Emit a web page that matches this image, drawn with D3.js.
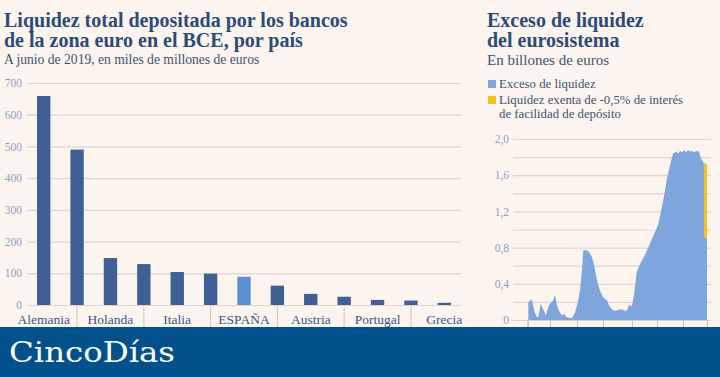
<!DOCTYPE html>
<html>
<head>
<meta charset="utf-8">
<script src="https://cdn.jsdelivr.net/npm/d3@7"></script>
<style>
  body { margin: 0; background: #fcf5ef; }
  svg { display: block; }
  .titulo { font-family: "Liberation Serif", serif; font-weight: bold; fill: #2d4b78; }
  .sub { font-family: "Liberation Serif", serif; fill: #3d5275; }
  .tick text { font-family: "Liberation Serif", serif; }
</style>
</head>
<body>
<script>
// Datos: depósitos por país (miles de millones de euros)
var paises = ["Alemania", "Francia", "Holanda", "Bélgica", "Italia", "Luxemburgo", "ESPAÑA",
              "Finlandia", "Austria", "Irlanda", "Portugal", "Eslovaquia", "Grecia"];
var depositos = [659, 490, 148, 129, 104, 99, 89, 61, 35, 26, 16, 14, 7];
var ticksDepositos = [0, 100, 200, 300, 400, 500, 600, 700];

// Datos: exceso de liquidez del eurosistema (billones de euros)
var fechasExceso = ["2008-10-08", "2008-11-14", "2008-12-20", "2009-01-26", "2009-03-03", "2009-04-09",
  "2009-05-15", "2009-07-05", "2009-08-18", "2009-09-16", "2009-10-30", "2009-12-06", "2010-01-12",
  "2010-03-05", "2010-04-09", "2010-05-16", "2010-06-21", "2010-07-27", "2010-09-02", "2010-10-30",
  "2010-12-06", "2011-01-26", "2011-04-09", "2011-06-06", "2011-07-27", "2011-09-16", "2011-11-14",
  "2011-12-28", "2012-01-26", "2012-04-12", "2012-06-06", "2012-07-30", "2012-09-16", "2012-10-30",
  "2012-12-20", "2013-02-13", "2013-04-09", "2013-06-24", "2013-08-18", "2013-10-12", "2013-12-24",
  "2014-03-03", "2014-05-19", "2014-07-30", "2014-09-16", "2014-10-30", "2014-12-24", "2015-02-13",
  "2015-04-12", "2015-06-24", "2015-10-12", "2016-03-14", "2016-07-23", "2016-11-10", "2017-02-06",
  "2017-04-12", "2017-06-17", "2017-08-22", "2017-10-05", "2017-11-18", "2018-01-01", "2018-02-13",
  "2018-03-28", "2018-05-12", "2018-06-25", "2018-08-08", "2018-09-20", "2018-11-03", "2019-01-08",
  "2019-02-21", "2019-04-05", "2019-04-25", "2019-07-01"];
var valoresExceso = [0.20, 0.21, 0.23, 0.15, 0.08, 0.04,
  0.03, 0.18, 0.13, 0.10, 0.05, 0.12, 0.17,
  0.20, 0.22, 0.28, 0.18, 0.12, 0.08, 0.05,
  0.07, 0.03, 0.02, 0.03, 0.08, 0.17, 0.32,
  0.55, 0.77, 0.77, 0.75, 0.70, 0.62, 0.50,
  0.38, 0.30, 0.25, 0.22, 0.16, 0.12, 0.10,
  0.11, 0.12, 0.10, 0.11, 0.17, 0.15, 0.28,
  0.53, 0.62, 0.72, 0.90, 1.05, 1.31, 1.57,
  1.71, 1.84, 1.86, 1.84, 1.87, 1.85, 1.88,
  1.85, 1.88, 1.86, 1.87, 1.85, 1.87, 1.86,
  1.78, 1.75, 1.73, 1.72];
// Liquidez exenta del tipo de la facilidad de depósito (último tramo)
var fechasExenta = ["2019-04-25", "2019-07-01"];
var valoresExenta = [0.82, 0.82];
var ticksFechas = ["2008-09-15", "2010-01-26", "2011-09-10", "2013-04-01", "2015-01-01",
  "2016-07-01", "2018-01-20", "2019-07-01"];
var ticksExceso = [0, 0.2, 0.4, 0.6, 0.8, 1.0, 1.2, 1.4, 1.6, 1.8, 2.0];
var etiquetasExceso = [0, 0.4, 0.8, 1.2, 1.6, 2.0];

var W = 720, H = 377;
var svg = d3.select("body").append("svg")
    .attr("width", W)
    .attr("height", H);

svg.append("rect").attr("width", W).attr("height", H).attr("fill", "#fcf5ef");

// ---------- Gráfico izquierdo ----------
var izq = {left: 27, right: 461, top: 83, bottom: 305};

svg.append("text").attr("class", "titulo").attr("x", 4).attr("y", 27).attr("font-size", 20)
    .text("Liquidez total depositada por los bancos");
svg.append("text").attr("class", "titulo").attr("x", 4).attr("y", 47).attr("font-size", 20)
    .text("de la zona euro en el BCE, por país");
svg.append("text").attr("class", "sub").attr("x", 4).attr("y", 64).attr("font-size", 13.6)
    .text("A junio de 2019, en miles de millones de euros");

var x = d3.scaleBand().domain(paises).range([izq.left, izq.right])
    .paddingInner(0.6).paddingOuter(0.3);
var y = d3.scaleLinear().domain([0, 700]).range([izq.bottom, izq.top]);

var gy = svg.append("g")
    .attr("transform", `translate(${izq.left}, 0)`)
    .call(d3.axisLeft(y).tickValues(ticksDepositos).tickSize(-(izq.right - izq.left)).tickPadding(5));
gy.select(".domain").remove();
gy.selectAll(".tick line").attr("stroke", "#ddd5ce").attr("stroke-width", 1.2);
gy.selectAll(".tick text").attr("fill", "#8c9fc2").attr("font-size", 11.5);

svg.append("g").selectAll("rect")
    .data(depositos)
    .enter().append("rect")
    .attr("x", (d, i) => x(paises[i]))
    .attr("y", d => y(d))
    .attr("width", x.bandwidth())
    .attr("height", d => y(0) - y(d))
    .attr("fill", (d, i) => paises[i] === "ESPAÑA" ? "#5c90d2" : "#3f5f95");

var gx = svg.append("g")
    .attr("transform", `translate(0, ${izq.bottom})`)
    .call(d3.axisBottom(x).tickSize(0).tickPadding(9)
      .tickFormat((d, i) => i % 2 === 0 ? d : ""));
gx.select(".domain").remove();
gx.selectAll(".tick text").attr("fill", "#3b5584").attr("font-size", 13.5);

// separadores entre etiquetas
svg.append("g").selectAll("line")
    .data(paises.filter((d, i) => i % 2 === 1))
    .enter().append("line")
    .attr("x1", d => x(d) + x.bandwidth() / 2)
    .attr("x2", d => x(d) + x.bandwidth() / 2)
    .attr("y1", izq.bottom)
    .attr("y2", 328)
    .attr("stroke", "#cfc8c2");

// ---------- Gráfico derecho ----------
var der = {left: 513, right: 711, top: 139, bottom: 320};
var parse = d3.timeParse("%Y-%m-%d");

svg.append("text").attr("class", "titulo").attr("x", 487).attr("y", 27).attr("font-size", 20)
    .text("Exceso de liquidez");
svg.append("text").attr("class", "titulo").attr("x", 487).attr("y", 47).attr("font-size", 20)
    .text("del eurosistema");
svg.append("text").attr("class", "sub").attr("x", 487).attr("y", 65).attr("font-size", 15)
    .text("En billones de euros");

var leyenda = [
  {color: "#7fa6dc", lineas: ["Exceso de liquidez"]},
  {color: "#f5c21b", lineas: ["Liquidez exenta de -0,5% de interés", "de facilidad de depósito"]}
];
leyenda.forEach(function(l, k) {
  var yy = 88 + k * 16;
  svg.append("rect").attr("x", 488).attr("y", yy - 8).attr("width", 8).attr("height", 8).attr("fill", l.color);
  l.lineas.forEach(function(t, j) {
    svg.append("text").attr("class", "sub").attr("x", 499).attr("y", yy + j * 14)
      .attr("font-size", 12.8).text(t);
  });
});

var xt = d3.scaleTime()
    .domain([parse("2008-10-01"), parse("2019-07-01")])
    .range([528, 707]);
var yt = d3.scaleLinear().domain([0, 2]).range([der.bottom, der.top]);

var gy2 = svg.append("g")
    .attr("transform", `translate(${der.left}, 0)`)
    .call(d3.axisLeft(yt).tickValues(ticksExceso).tickSize(-(der.right - der.left)).tickPadding(4)
      .tickFormat(d => etiquetasExceso.some(v => Math.abs(v - d) < 1e-9)
        ? (d === 0 ? "0" : d3.format(".1f")(d).replace(".", ",")) : ""));
gy2.select(".domain").remove();
gy2.selectAll(".tick line").attr("stroke", "#ddd5ce").attr("stroke-width", 1.2);
gy2.selectAll(".tick text").attr("fill", "#8c9fc2").attr("font-size", 11.5);

var datosExceso = fechasExceso.map((f, i) => ({fecha: parse(f), valor: valoresExceso[i]}));
svg.append("path")
    .datum(datosExceso)
    .attr("d", d3.area().x(d => xt(d.fecha)).y0(yt(0)).y1(d => yt(d.valor)))
    .attr("fill", "#7fa6dc");

var datosExenta = fechasExenta.map((f, i) => {
  var total = valoresExceso[fechasExceso.indexOf(f)];
  return {fecha: parse(f), total: total, base: total - valoresExenta[i]};
});
svg.append("path")
    .datum(datosExenta)
    .attr("d", d3.area().x(d => xt(d.fecha)).y0(d => yt(d.base)).y1(d => yt(d.total)))
    .attr("fill", "#f5c21b");

var gx2 = svg.append("g")
    .attr("transform", `translate(0, ${der.bottom})`)
    .call(d3.axisBottom(xt).tickValues(ticksFechas.map(parse)).tickSize(7).tickFormat(""));
gx2.select(".domain").attr("stroke", "#d5cec8");
gx2.selectAll(".tick line").attr("stroke", "#c6bfb9");

// ---------- Pie ----------
svg.append("rect").attr("x", 0).attr("y", 327).attr("width", W).attr("height", H - 327)
    .attr("fill", "#02518c");
svg.append("text").attr("x", 9).attr("y", 362)
    .attr("font-family", "DejaVu Serif, serif").attr("font-size", 28).attr("fill", "#fff")
    .attr("textLength", 166).attr("lengthAdjust", "spacingAndGlyphs")
    .text("CincoDías");
</script>
</body>
</html>
